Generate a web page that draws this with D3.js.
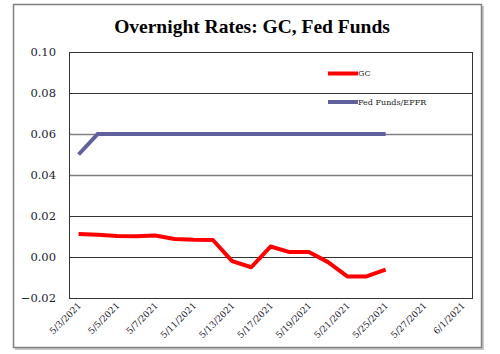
<!DOCTYPE html>
<html>
<head>
<meta charset="utf-8">
<script src="https://cdn.jsdelivr.net/npm/d3@7"></script>
<style>
  body { margin: 0; background: #fff; }
  text { font-family: "DejaVu Serif", "Liberation Serif", serif; }
</style>
</head>
<body>
<div id="chart"></div>
<script>
// business days shown on the category axis
const dates = ['5/3/2021', '5/4/2021', '5/5/2021', '5/6/2021', '5/7/2021', '5/10/2021', '5/11/2021',
  '5/12/2021', '5/13/2021', '5/14/2021', '5/17/2021', '5/18/2021', '5/19/2021', '5/20/2021',
  '5/21/2021', '5/24/2021', '5/25/2021', '5/26/2021', '5/27/2021', '5/28/2021', '6/1/2021'];
const gcValues = [0.0112, 0.0108, 0.0102, 0.0101, 0.0105, 0.0088, 0.0084, 0.0083, -0.0020, -0.0050,
  0.0051, 0.0024, 0.0024, -0.0025, -0.0095, -0.0095, -0.0062];
const effrValues = [0.05, 0.06, 0.06, 0.06, 0.06, 0.06, 0.06, 0.06, 0.06, 0.06,
  0.06, 0.06, 0.06, 0.06, 0.06, 0.06, 0.06];
const yTicks = [-0.02, 0, 0.02, 0.04, 0.06, 0.08, 0.10];
const seriesNames = ['GC', 'Fed Funds/EFFR'];
const seriesColors = ['#ff0000', '#60609c'];

const width = 500, height = 354;
const margin = { top: 52, right: 28, bottom: 56, left: 69 };

const svg = d3.select('#chart').append('svg').attr('width', width).attr('height', height);

// outer chart frame with a little shadow
svg.append('rect').attr('x', 15).attr('y', 6).attr('width', 469).attr('height', 344)
  .attr('fill', '#c8c8c8');
svg.append('rect').attr('x', 13.5).attr('y', 4.5).attr('width', 468).attr('height', 343)
  .attr('fill', '#fff').attr('stroke', '#808080').attr('stroke-width', 1.5);

const x = d3.scaleBand().domain(dates).range([margin.left, width - margin.right]);
const y = d3.scaleLinear().domain([-0.02, 0.10]).range([height - margin.bottom, margin.top]);
const cx = (i) => x(dates[i]) + x.bandwidth() / 2;

svg.append('text')
  .attr('x', 252).attr('y', 33)
  .attr('text-anchor', 'middle')
  .style('font-family', '"Liberation Serif", serif')
  .style('font-size', '19.5px').style('font-weight', 'bold')
  .text('Overnight Rates: GC, Fed Funds');

// gridlines
svg.append('g').selectAll('line').data(yTicks).enter().append('line')
  .attr('x1', margin.left).attr('x2', width - margin.right)
  .attr('y1', (d) => Math.round(y(d)) + 0.5).attr('y2', (d) => Math.round(y(d)) + 0.5)
  .attr('stroke', (d) => (d === 0.04 || d === 0.06 ? '#808080' : '#333'))
  .attr('stroke-width', (d) => (d === 0.04 || d === 0.06 ? 1.5 : 1));

// plot area border
svg.append('rect')
  .attr('x', margin.left + 0.5).attr('y', Math.round(y(0.10)) + 0.5)
  .attr('width', width - margin.right - margin.left)
  .attr('height', Math.round(y(-0.02)) - Math.round(y(0.10)))
  .attr('fill', 'none').attr('stroke', '#333');

// y labels
const yAxis = d3.axisLeft(y).tickValues(yTicks).tickFormat(d3.format('.2f')).tickSize(0).tickPadding(13);
const gy = svg.append('g').attr('transform', `translate(${margin.left},0)`).call(yAxis);
gy.select('.domain').remove();
gy.selectAll('text').style('font-size', '11.5px').attr('fill', '#1a1a2e')
  .style('font-family', '"DejaVu Serif", serif');

// x labels, every second business day
const xAxis = d3.axisBottom(x).tickValues(dates.filter((d, i) => i % 2 === 0)).tickSize(0);
const gx = svg.append('g').attr('transform', `translate(0,${height - margin.bottom})`).call(xAxis);
gx.select('.domain').remove();
gx.selectAll('text')
  .style('font-size', '9px').attr('fill', '#1a1a2e')
  .style('font-family', '"DejaVu Serif", serif')
  .attr('text-anchor', 'end')
  .attr('y', 0)
  .attr('dy', '0.35em')
  .attr('transform', 'translate(1,6) rotate(-45)');

const line = d3.line().x((d, i) => cx(i)).y((d) => y(d));

svg.append('path').datum(effrValues).attr('d', line)
  .attr('fill', 'none').attr('stroke', seriesColors[1]).attr('stroke-width', 4);
svg.append('path').datum(gcValues).attr('d', line)
  .attr('fill', 'none').attr('stroke', seriesColors[0]).attr('stroke-width', 4)
  .attr('stroke-linejoin', 'round');

// legend
const legend = svg.append('g').selectAll('g').data(seriesNames).enter().append('g')
  .attr('transform', (d, i) => `translate(328,${i === 0 ? 73.5 : 102})`);
legend.append('line').attr('x1', 0).attr('x2', 30)
  .attr('stroke', (d, i) => seriesColors[i]).attr('stroke-width', 4);
legend.append('text').attr('x', 30).attr('dy', '0.35em')
  .style('font-size', '8px').attr('fill', '#222')
  .text((d) => d);
</script>
</body>
</html>
